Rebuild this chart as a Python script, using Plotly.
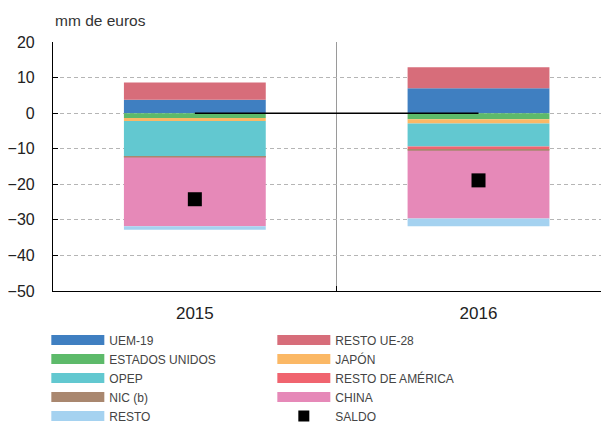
import plotly.graph_objects as go

years = ['2015', '2016']
uem = [3.8, 7.0]
resto_ue = [4.8, 5.9]
eeuu = [-1.4, -1.7]
japon = [-0.8, -1.2]
opep = [-10.0, -6.5]
resto_am = [-0.1, -0.9]
nic = [-0.2, -0.3]
china = [-19.3, -19.0]
resto = [-1.0, -2.2]
saldo = [-24.2, -18.9]

series = [
    ('UEM-19', uem, '#3f7fc1'),
    ('RESTO UE-28', resto_ue, '#d76d7a'),
    ('ESTADOS UNIDOS', eeuu, '#5dba6a'),
    ('JAPÓN', japon, '#fbb865'),
    ('OPEP', opep, '#62c8d0'),
    ('RESTO DE AMÉRICA', resto_am, '#f0646f'),
    ('NIC (b)', nic, '#a9876f'),
    ('CHINA', china, '#e689b8'),
    ('RESTO', resto, '#a5d2f0'),
]

FONT = 'Liberation Sans, Arial, sans-serif'
fig = go.Figure()
for name, vals, col in series:
    fig.add_trace(go.Bar(x=years, y=vals, name=name, marker=dict(color=col, line=dict(width=0)),
                         width=0.5, showlegend=False))
# black line at zero joining category centres
fig.add_trace(go.Scatter(x=years, y=[0, 0], mode='lines', line=dict(color='black', width=1.5),
                         showlegend=False, hoverinfo='skip'))
fig.add_trace(go.Scatter(x=years, y=saldo, mode='markers', name='SALDO',
                         marker=dict(symbol='square', size=14, color='black'), showlegend=False))
# legend entries
for name, vals, col in series:
    fig.add_trace(go.Scatter(x=[None], y=[None], mode='lines', name=name,
                             line=dict(color=col, width=10), showlegend=True))
fig.add_trace(go.Scatter(x=[None], y=[None], mode='markers', name='SALDO',
                         marker=dict(symbol='square', size=11, color='black'), showlegend=True))

fig.update_layout(
    width=601, height=416,
    barmode='relative',
    plot_bgcolor='white', paper_bgcolor='white',
    margin=dict(l=45, r=0, t=34, b=133, autoexpand=False),
    font=dict(family=FONT, color='#222'),
    showlegend=True,
    legend=dict(orientation='h', x=-0.012, y=-0.1384, xanchor='left', yanchor='top',
                entrywidth=158, entrywidthmode='pixels', itemwidth=53,
                font=dict(size=12, color='#444'), traceorder='normal',
                bgcolor='rgba(0,0,0,0)', itemclick=False),
    annotations=[dict(text='mm de euros', x=0, y=1.0855, xref='paper', yref='paper', showarrow=False,
                      xanchor='left', yanchor='middle', font=dict(size=15.5, color='#333'))],
)
fig.update_xaxes(type='category', range=[-0.5, 1.46], tickson='boundaries', showgrid=True,
                 gridcolor='#9a9a9a', gridwidth=1, ticks='inside', ticklen=5, tickcolor='black',
                 showline=True, linecolor='black', linewidth=1.2, ticklabelstandoff=6,
                 tickfont=dict(size=17, color='#222'))
fig.update_yaxes(range=[-50, 20], dtick=10, tick0=0, showgrid=True, gridcolor='#b5b5b5',
                 griddash='4px,3px', zeroline=False, ticks='inside', ticklen=5,
                 tickcolor='black', showline=True, linecolor='black', linewidth=1.2,
                 ticklabelstandoff=14, tickfont=dict(size=16, color='#222'))

fig.write_html('out.html')
